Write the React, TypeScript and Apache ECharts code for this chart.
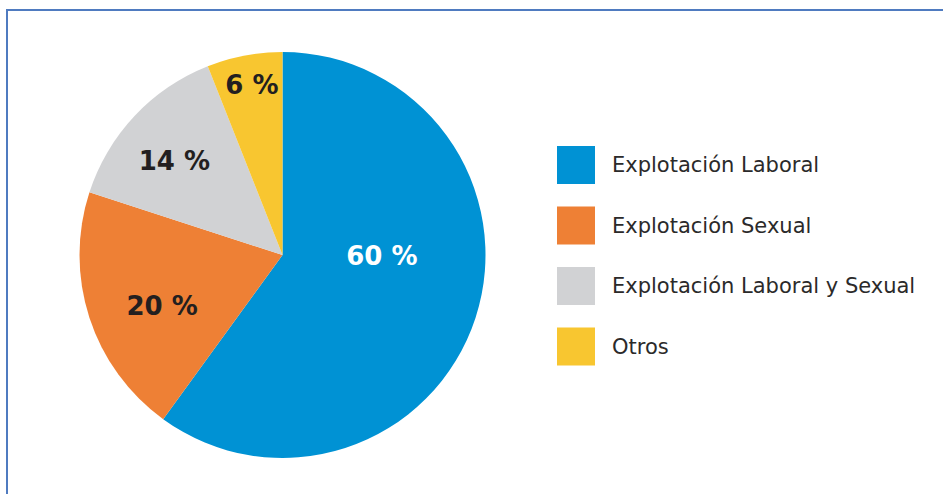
import React, { useEffect, useRef } from "react";
import * as echarts from "echarts";

const categories = [
  "Explotación Laboral",
  "Explotación Sexual",
  "Explotación Laboral y Sexual",
  "Otros",
];
const values = [60, 20, 14, 6];
const colors = ["#0092D4", "#EE8035", "#D1D2D4", "#F8C630"];
const labelColors = ["#FFFFFF", "#231F20", "#231F20", "#231F20"];
const labelOffsets = [
  [0, -31],
  [-21, 19],
  [-32, -22],
  [-11, -67],
];

export default function App() {
  const ref = useRef<HTMLDivElement>(null);
  useEffect(() => {
    if (!ref.current) return;
    const chart = echarts.init(ref.current, null, { renderer: "svg" });
    chart.setOption({
      animation: false,
      backgroundColor: "#FFFFFF",
      graphic: [
        {
          type: "line",
          shape: { x1: 6, y1: 10, x2: 943, y2: 10 },
          style: { stroke: "#4F7BC0", lineWidth: 2 },
        },
        {
          type: "line",
          shape: { x1: 7, y1: 9, x2: 7, y2: 494 },
          style: { stroke: "#4F7BC0", lineWidth: 2 },
        },
      ],
      legend: {
        orient: "vertical",
        left: 557,
        top: 146,
        padding: 0,
        itemWidth: 38,
        itemHeight: 38,
        itemGap: 22.5,
        icon: "rect",
        selectedMode: false,
        data: categories,
        textStyle: {
          fontFamily: "DejaVu Sans",
          fontSize: 21,
          color: "#2B2A2A",
          padding: [0, 0, 0, 12],
        },
      },
      series: [
        {
          type: "pie",
          center: [282.5, 255],
          radius: [0, 203],
          startAngle: 90,
          clockwise: true,
          silent: true,
          avoidLabelOverlap: false,
          labelLine: { show: false },
          emphasis: { disabled: true },
          data: categories.map((name, i) => ({
            name,
            value: values[i],
            itemStyle: { color: colors[i] },
            label: {
              show: true,
              position: "inside",
              formatter: "{c} %",
              color: labelColors[i],
              fontFamily: "DejaVu Sans",
              fontWeight: "bold",
              fontSize: 26,
              offset: labelOffsets[i],
            },
          })),
        },
      ],
    });
    return () => chart.dispose();
  }, []);
  return (
    <div
      ref={ref}
      style={{ position: "fixed", left: 0, top: 0, width: 943, height: 494 }}
    />
  );
}
